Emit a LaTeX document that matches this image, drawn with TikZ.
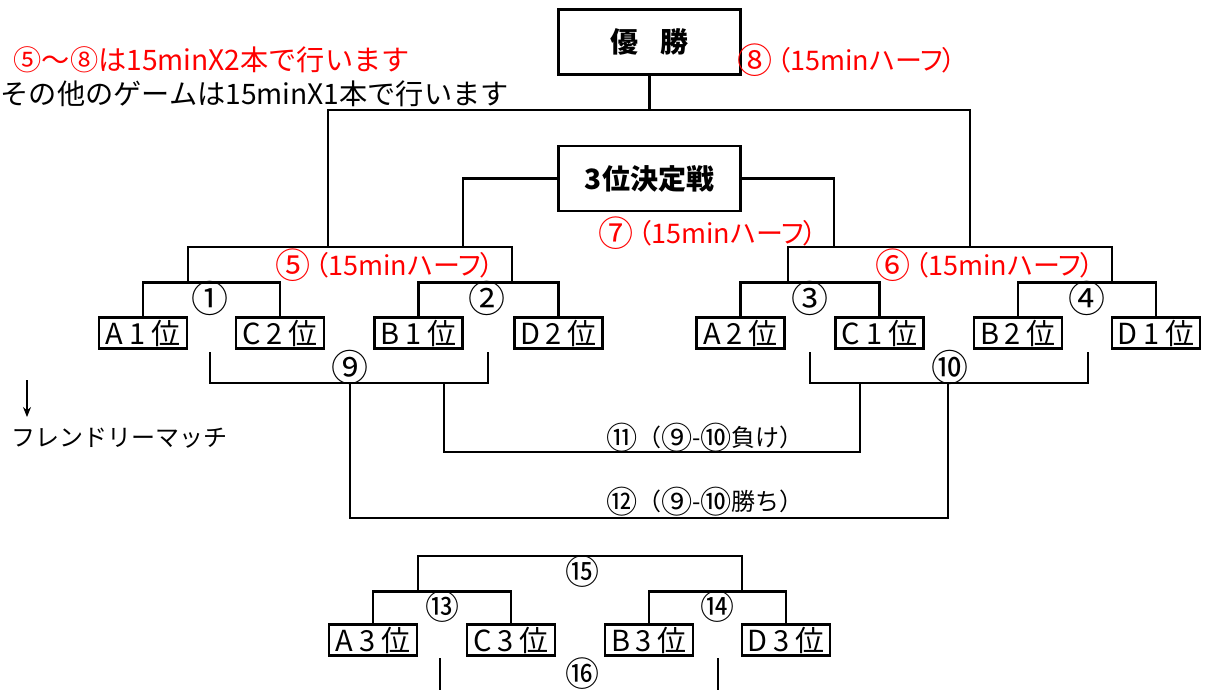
\documentclass[tikz,border=0pt]{standalone}
\usepackage{fontspec}
\setmainfont{Noto Sans CJK JP}
\newfontfamily\teamfont[LetterSpace=20]{Noto Sans CJK JP}
\newfontfamily\paltfont[RawFeature=+palt]{Noto Sans CJK JP}
\usetikzlibrary{arrows.meta}
\usetikzlibrary{positioning}
\newcommand{\cnum}[1]{\raisebox{-0.12em}{\scalebox{1.3}{#1}}}

\begin{document}
\begin{tikzpicture}[x=1pt, y=-1pt,
    team/.style={draw, line width=2.5pt, minimum width=88pt, minimum height=31pt,
        inner sep=0pt, font=\teamfont\fontsize{29}{29}\selectfont},
    title/.style={draw, line width=2.5pt, minimum width=182pt, minimum height=65pt,
        inner sep=0pt, font=\bfseries\fontsize{28}{28}\selectfont},
    bracket/.style={line width=2.5pt},
    thin/.style={line width=1.2pt},
    num/.style={inner sep=0pt, font=\fontsize{37}{37}\selectfont},
    half/.style={inner sep=0pt, text=red, font=\paltfont\fontsize{27}{27}\selectfont},
    result/.style={inner sep=0pt, font=\fontsize{24}{24}\selectfont},
    note/.style={inner sep=0pt, font=\fontsize{28.2}{28.2}\selectfont}]
    \useasboundingbox (0,0) rectangle (1205,690);
    % notes
    \node[note, text=red, anchor=east] (rule) at (410,60) {⑤～⑧は15minX2本で行います};
    \node[note, anchor=east] (other) at (509,94) {その他のゲームは15minX1本で行います};
    \node[note, font=\fontsize{24}{24}\selectfont] (fm) at (120,438) {フレンドリーマッチ};
    \coordinate (ar) at (27,380);
    \draw[thin, -{Stealth[length=10pt, width=8pt]}] (ar) -- ++(0,37);
    % final and 3rd place
    \node[title] (win) at (649.5,42) {優\hspace{22pt}勝};
    \node[title] (third) at (649.5,178.5) {3位決定戦};
    \node[half] (m8) at (847,60) {\cnum{⑧}\kern4pt（15minハーフ）};
    \node[half] (m7) at (708,233) {\cnum{⑦}\kern4pt（15minハーフ）};
    \node[half] (m5) at (385,265) {\cnum{⑤}\kern4pt（15minハーフ）};
    \node[half] (m6) at (985,265) {\cnum{⑥}\kern4pt（15minハーフ）};
    % teams
    \node[team] (a1) at (143,333) {A1位};
    \node[team] (c2) at (280,333) {C2位};
    \node[team] (b1) at (418.5,333) {B1位};
    \node[team] (d2) at (558.5,333) {D2位};
    \node[team] (a2) at (740.5,333) {A2位};
    \node[team] (c1) at (879.5,333) {C1位};
    \node[team] (b2) at (1018,333) {B2位};
    \node[team] (d1) at (1156,333) {D1位};
    \node[team] (a3) at (373,640) {A3位};
    \node[team] (c3) at (511,640) {C3位};
    \node[team] (b3) at (649,640) {B3位};
    \node[team] (d3) at (786,640) {D3位};
    % game numbers
    \node[num] (n1) at (210,298) {①};
    \node[num] (n2) at (487,298) {②};
    \node[num] (n3) at (810,298) {③};
    \node[num] (n4) at (1087,298) {④};
    \node[num] (n9) at (350,367) {⑨};
    \node[num] (n10) at (950,367) {⑩};
    \node[result] (n11) at (705,438) {\cnum{⑪}（\cnum{⑨}-\cnum{⑩}負け）};
    \node[result] (n12) at (705,502) {\cnum{⑫}（\cnum{⑨}-\cnum{⑩}勝ち）};
    \node[num, font=\fontsize{34}{34}\selectfont] (n13) at (442,607) {⑬};
    \node[num, font=\fontsize{34}{34}\selectfont] (n14) at (717,607) {⑭};
    \node[num, font=\fontsize{34}{34}\selectfont] (n15) at (582,572) {⑮};
    \node[num, font=\fontsize{34}{34}\selectfont] (n16) at (582,674) {⑯};
    % joints
    \coordinate (top) at (0,110);
    \coordinate (j5l) at (188,283);
    \coordinate (j5r) at (512,283);
    \coordinate (j5a) at (328,247);
    \coordinate (j5b) at (463,247);
    \coordinate (j6l) at (788,283);
    \coordinate (j6r) at (1112,283);
    \coordinate (j6a) at (834,247);
    \coordinate (j6b) at (970,247);
    \coordinate (k9l) at (210,352);
    \coordinate (k9r) at (488,352);
    \coordinate (k10l) at (810,352);
    \coordinate (k10r) at (1088,352);
    \coordinate (w9) at (350,383);
    \coordinate (l9) at (444,383);
    \coordinate (l10) at (860,383);
    \coordinate (w10) at (948,383);
    \coordinate (j15l) at (418,592);
    \coordinate (j15r) at (742,592);
    \coordinate (k16l) at (440,658);
    \coordinate (k16r) at (718,658);
    % brackets
    \draw[bracket] (a1.north) -- ++(0,-34) -| (c2.north);
    \draw[bracket] (b1.north) -- ++(0,-34) -| (d2.north);
    \draw[bracket] (a2.north) -- ++(0,-34) -| (c1.north);
    \draw[bracket] (b2.north) -- ++(0,-34) -| (d1.north);
    \draw[bracket] (j5l) -- (j5l |- j5a) -- (j5r |- j5a) -- (j5r);
    \draw[bracket] (j6l) -- (j6l |- j6a) -- (j6r |- j6a) -- (j6r);
    \draw[bracket] (j5a) -- (j5a |- top) -- (j6b |- top) -- (j6b);
    \draw[bracket] (win.south) -- (win.south |- top);
    \draw[bracket] (third.west) -| (j5b);
    \draw[bracket] (third.east) -| (j6a);
    \draw[thin] (k9l) -- ++(0,31) -| (k9r);
    \draw[thin] (k10l) -- ++(0,31) -| (k10r);
    \draw[thin] (l9) -- ++(0,69) -| (l10);
    \draw[thin] (w9) -- ++(0,135) -| (w10);
    \draw[bracket] (a3.north) -- ++(0,-32) -| (c3.north);
    \draw[bracket] (b3.north) -- ++(0,-32) -| (d3.north);
    \draw[bracket] (j15l) -- ++(0,-36) -| (j15r);
    \draw[thin] (k16l) -- ++(0,32);
    \draw[thin] (k16r) -- ++(0,32);
\end{tikzpicture}
\end{document}
